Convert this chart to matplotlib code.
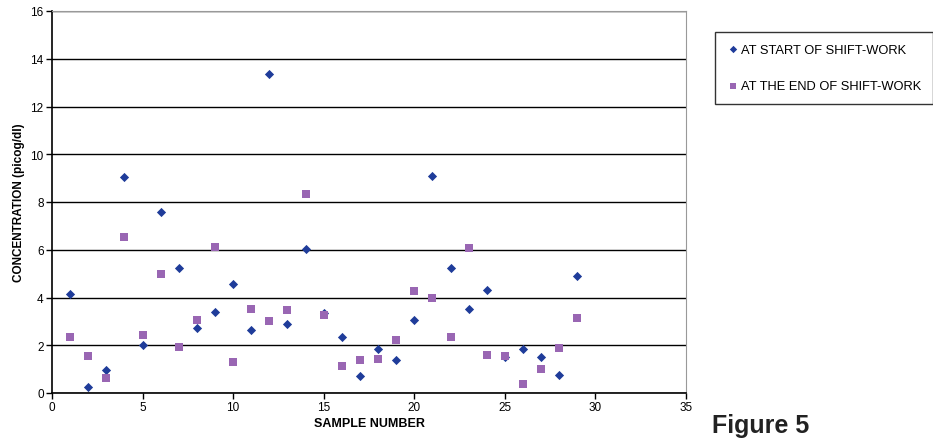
import matplotlib.pyplot as plt
import numpy as np

# Дані: номер зразка та концентрація (picog/dl)
samples = np.arange(1, 30)
start_shift = [4.16, 0.27, 0.96, 9.06, 2.03, 7.58, 5.24, 2.72, 3.39, 4.55,
               2.63, 13.37, 2.89, 6.03, 3.37, 2.35, 0.71, 1.84, 1.37, 3.04,
               9.09, 5.22, 3.53, 4.33, 1.49, 1.86, 1.51, 0.74, 4.90]
end_shift = [2.33, 1.54, 0.63, 6.54, 2.43, 4.99, 1.93, 3.04, 6.12, 1.31,
             3.52, 3.00, 3.46, 8.35, 3.28, 1.15, 1.37, 1.42, 2.23, 4.29,
             3.97, 2.33, 6.09, 1.59, 1.55, 0.36, 0.99, 1.87, 3.16]
labels = ["AT START OF SHIFT-WORK", "AT THE END OF SHIFT-WORK"]

plt.rcParams['font.family'] = ['Liberation Sans', 'DejaVu Sans']

fig = plt.figure(figsize=(9.33, 4.39), dpi=100)
ax = fig.add_axes([52 / 933, 45 / 439, 634 / 933, 382 / 439])

s1 = ax.scatter(samples, start_shift, marker='D', s=22, c='#1f3c9a',
                linewidths=0, zorder=3, label=labels[0])
s2 = ax.scatter(samples, end_shift, marker='s', s=28, c='#9966b3',
                linewidths=0, zorder=3, label=labels[1])

ax.set_xlim(0, 35)
ax.set_ylim(0, 16)
ax.set_xticks(range(0, 36, 5))
ax.set_yticks(range(0, 17, 2))
ax.yaxis.grid(True, color='black', linewidth=1)
ax.set_axisbelow(True)

for side in ['top', 'right']:
    ax.spines[side].set_color('#999999')
for side in ['left', 'bottom']:
    ax.spines[side].set_color('black')
    ax.spines[side].set_linewidth(1.2)

ax.tick_params(axis='both', direction='out', length=4, width=1,
               labelsize=8.5, colors='black', pad=2)

ax.set_xlabel("SAMPLE NUMBER", fontsize=9, fontweight='bold', labelpad=3)
ax.set_ylabel("CONCENTRATION (picog/dl)", fontsize=8.5, fontweight='bold',
              labelpad=4)

leg = fig.legend(handles=[s1, s2], labels=labels, loc='upper left',
                 bbox_to_anchor=(715 / 933, 1 - 33 / 439), borderaxespad=0,
                 fontsize=9.3, frameon=True, fancybox=False,
                 edgecolor='black', handletextpad=0.1, handlelength=1.0,
                 labelspacing=1.9, borderpad=0.9, markerscale=0.8)
leg.get_frame().set_linewidth(1)

fig.text(712 / 933, 6 / 439, "Figure 5", va='baseline',
         fontweight='bold', fontsize=18, color='#222222')

fig.savefig("out.png", dpi=100)
plt.close(fig)
